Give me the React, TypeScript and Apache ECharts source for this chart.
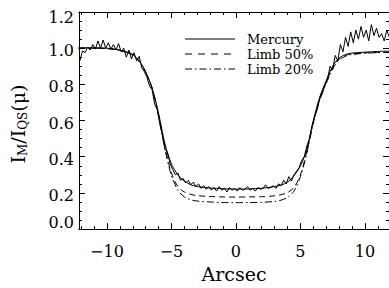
import React, { useEffect, useRef } from "react";
import * as echarts from "echarts";

// Observed Mercury profile, sampled every 0.2 arcsec starting at -12.1
const obsStart = -12.1;
const obsStep = 0.2;
const mercuryObs = [
  0.93, 0.985, 0.975, 1.005, 0.99, 1.02, 0.995, 1.04, 1.0, 1.045,
  1.0, 1.03, 0.995, 1.02, 0.99, 1.025, 0.98, 1.0, 0.95, 0.99,
  0.94, 0.975, 0.93, 0.955, 0.89, 0.87, 0.84, 0.79, 0.77, 0.69,
  0.66, 0.58, 0.52, 0.44, 0.42, 0.36, 0.33, 0.3, 0.31, 0.27,
  0.28, 0.255, 0.27, 0.245, 0.26, 0.235, 0.25, 0.225, 0.24, 0.22,
  0.235, 0.215, 0.23, 0.21, 0.235, 0.215, 0.225, 0.205, 0.23, 0.215,
  0.225, 0.21, 0.23, 0.215, 0.22, 0.235, 0.215, 0.225, 0.21, 0.23,
  0.22, 0.225, 0.245, 0.225, 0.23, 0.24, 0.225, 0.25, 0.24, 0.27,
  0.25, 0.29, 0.265, 0.3, 0.32, 0.34, 0.38, 0.4, 0.46, 0.5,
  0.57, 0.62, 0.66, 0.72, 0.75, 0.8, 0.83, 0.9, 0.88, 0.96,
  0.93, 1.02, 0.98, 1.06, 1.01, 1.09, 1.03, 1.1, 1.05, 1.12,
  1.06, 1.1, 1.04, 1.13, 1.07, 1.11, 1.06, 1.08, 1.04, 1.1,
  1.06,
];

const modelX = [
  -12.2, -11, -10, -9.5, -9, -8.5, -8, -7.5, -7, -6.5, -6, -5.5, -5, -4.5,
  -4, -3.5, -3, -2, -1, 0, 1, 2, 3, 3.5, 4, 4.5, 5, 5.5, 6, 6.5, 7, 7.5, 8,
  8.5, 9, 10, 11, 12,
];
const mercuryModel = [
  1.002, 1.002, 1.0, 0.996, 0.99, 0.98, 0.965, 0.93, 0.87, 0.78, 0.64, 0.47,
  0.36, 0.3, 0.265, 0.245, 0.235, 0.227, 0.223, 0.221, 0.222, 0.226, 0.235,
  0.243, 0.26, 0.295, 0.35, 0.44, 0.6, 0.73, 0.82, 0.9, 0.945, 0.965, 0.973,
  0.978, 0.982, 0.984,
];
const limb50 = [
  1.0, 1.0, 0.998, 0.994, 0.988, 0.978, 0.962, 0.927, 0.868, 0.778, 0.63,
  0.45, 0.31, 0.235, 0.205, 0.192, 0.185, 0.18, 0.178, 0.177, 0.178, 0.179,
  0.184, 0.19, 0.202, 0.23, 0.3, 0.43, 0.59, 0.72, 0.81, 0.89, 0.94, 0.96,
  0.968, 0.974, 0.977, 0.978,
];
const limb20 = [
  1.0, 1.0, 0.998, 0.994, 0.987, 0.977, 0.96, 0.925, 0.866, 0.776, 0.625,
  0.44, 0.295, 0.215, 0.178, 0.162, 0.155, 0.15, 0.147, 0.146, 0.147, 0.148,
  0.153, 0.16, 0.175, 0.21, 0.29, 0.42, 0.585, 0.715, 0.805, 0.885, 0.935,
  0.955, 0.965, 0.972, 0.975, 0.976,
];

const xMajor = [-10, -5, 0, 5, 10];
const xMinor = [-12, -11, -9, -8, -7, -6, -4, -3, -2, -1, 1, 2, 3, 4, 6, 7, 8, 9, 11];
const legendNames = ["Mercury", "Limb 50%", "Limb 20%"];

const FONT = "DejaVu Serif";
const X_MIN = -12.17;
const X_MAX = 11.87;

export default function App() {
  const ref = useRef<HTMLDivElement>(null);
  useEffect(() => {
    if (!ref.current) return;
    const chart = echarts.init(ref.current, undefined, { renderer: "svg" });
    const obs = mercuryObs.map((v, i) => [obsStart + i * obsStep, v]);
    const pairs = (arr: number[]) => arr.map((v, i) => [modelX[i], v]);
    const axisLine = { show: true, onZero: false, lineStyle: { color: "#000", width: 1 } };
    const lbl = (size: number, pad: number[]) => ({
      fontFamily: FONT,
      fontSize: size,
      color: "#000",
      padding: pad,
    });
    const xAx = (pos: string, vals: number[], len: number, labels: boolean) => ({
      type: "value",
      position: pos,
      min: X_MIN,
      max: X_MAX,
      axisLine,
      splitLine: { show: false },
      axisTick: { show: true, inside: true, length: len, customValues: vals, lineStyle: { color: "#000" } },
      axisLabel: labels
        ? { show: true, customValues: vals, margin: 14, fontFamily: FONT, fontSize: 16, color: "#000",
            formatter: (v: number) => (v < 0 ? "\u2212" + Math.abs(v) : String(v)) }
        : { show: false },
    });
    const yAx = (pos: string, labels: boolean) => ({
      type: "value",
      position: pos,
      min: 0,
      max: 1.2,
      interval: 0.2,
      axisLine,
      splitLine: { show: false },
      axisTick: { show: true, inside: true, length: 6, lineStyle: { color: "#000" } },
      minorTick: { show: true, splitNumber: 4, length: 3, lineStyle: { color: "#000" } },
      axisLabel: labels
        ? {
            margin: 5,
            formatter: (v: number) => {
              const t = v.toFixed(1);
              if (Math.abs(v) < 1e-9) return "{lo|" + t + "}";
              if (Math.abs(v - 1.2) < 1e-9) return "{hi|" + t + "}";
              return "{m|" + t + "}";
            },
            rich: {
              lo: lbl(16, [0, 0, 13, 0]),
              hi: lbl(16, [10, 0, 0, 0]),
              m: lbl(16, [5, 0, 0, 0]),
            },
          }
        : { show: false },
    });
    const legendText = (i: number, y: number) => ({
      type: "text",
      x: 247,
      y,
      style: {
        text: legendNames[i],
        fontFamily: FONT,
        fontSize: 13,
        lineHeight: 14,
        fill: "#000",
        verticalAlign: "middle",
      },
    });
    const option: any = {
      animation: false,
      grid: { left: 79, top: 12, right: -2, bottom: 55 },
      xAxis: [
        {
          ...xAx("bottom", xMajor, 6, true),
          name: "Arcsec",
          nameLocation: "middle",
          nameGap: 34,
          nameTextStyle: { fontFamily: FONT, fontSize: 19, color: "#000" },
        },
        xAx("bottom", xMinor, 3, false),
        xAx("top", xMajor, 6, false),
        xAx("top", xMinor, 3, false),
      ],
      yAxis: [yAx("left", true), yAx("right", false)],
      series: [
        {
          type: "line",
          data: obs,
          symbol: "none",
          lineStyle: { color: "#000", width: 1 },
        },
        {
          name: legendNames[0],
          type: "line",
          data: pairs(mercuryModel),
          symbol: "none",
          smooth: 0.3,
          lineStyle: { color: "#000", width: 1 },
        },
        {
          name: legendNames[1],
          type: "line",
          data: pairs(limb50),
          symbol: "none",
          smooth: 0.3,
          lineStyle: { color: "#000", width: 1, type: [6, 4] },
        },
        {
          name: legendNames[2],
          type: "line",
          data: pairs(limb20),
          symbol: "none",
          smooth: 0.3,
          lineStyle: { color: "#000", width: 1, type: [7, 3, 1.5, 3] },
        },
      ],
      graphic: [
        {
          type: "text",
          x: 18,
          y: 124,
          rotation: Math.PI / 2,
          style: {
            text: "{a|I}{s|M}{a|/I}{s|QS}{a|(\u03bc)}",
            align: "center",
            verticalAlign: "middle",
            rich: {
              a: { fontFamily: FONT, fontSize: 19, color: "#000", verticalAlign: "middle", lineHeight: 22 },
              s: { fontFamily: FONT, fontSize: 12, color: "#000", verticalAlign: "bottom", lineHeight: 22, padding: [8, 0, 0, 0] },
            },
          },
        },
        { type: "line", shape: { x1: 185, y1: 39, x2: 235, y2: 39 }, style: { stroke: "#000", lineWidth: 1 } },
        { type: "line", shape: { x1: 185, y1: 54, x2: 235, y2: 54 }, style: { stroke: "#000", lineWidth: 1, lineDash: [7, 6] } },
        { type: "line", shape: { x1: 185, y1: 69, x2: 235, y2: 69 }, style: { stroke: "#000", lineWidth: 1, lineDash: [7, 3, 1.5, 3] } },
        legendText(0, 39),
        legendText(1, 54),
        legendText(2, 69),
      ],
    };
    chart.setOption(option);
    return () => chart.dispose();
  }, []);
  return (
    <div
      ref={ref}
      style={{ position: "absolute", left: 0, top: 0, width: 389, height: 288, background: "#fff" }}
    />
  );
}
